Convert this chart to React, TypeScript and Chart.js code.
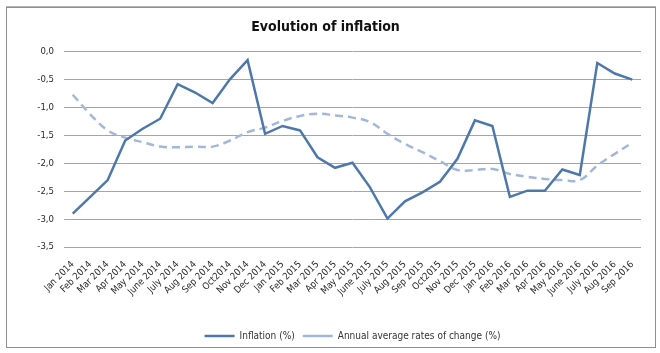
import React, { useEffect, useRef } from "react";
import { Chart, registerables } from "chart.js";

Chart.register(...registerables);

const categories = [
  "Jan 2014", "Feb 2014", "Mar 2014", "Apr 2014", "May 2014", "June 2014", "July 2014", "Aug 2014", "Sep 2014", "Oct2014", "Nov 2014", "Dec 2014",
  "Jan 2015", "Feb 2015", "Mar 2015", "Apr 2015", "May 2015", "June 2015", "July 2015", "Aug 2015", "Sep 2015", "Oct2015", "Nov 2015", "Dec 2015",
  "Jan 2016", "Feb 2016", "Mar 2016", "Apr 2016", "May 2016", "June 2016", "July 2016", "Aug 2016", "Sep 2016",
];

const inflation = [
  -2.9, -2.6, -2.3, -1.59, -1.38, -1.2, -0.58, -0.73, -0.92, -0.49, -0.15, -1.47,
  -1.33, -1.41, -1.89, -2.08, -1.99, -2.43, -2.99, -2.68, -2.52, -2.33, -1.92, -1.23,
  -1.33, -2.6, -2.49, -2.49, -2.11, -2.21, -0.2, -0.39, -0.5,
];

const annualAverage = [
  -0.77, -1.12, -1.41, -1.54, -1.62, -1.7, -1.71, -1.7, -1.7, -1.59, -1.44, -1.36,
  -1.24, -1.15, -1.11, -1.14, -1.18, -1.26, -1.47, -1.65, -1.8, -1.96, -2.12, -2.12,
  -2.1, -2.19, -2.24, -2.28, -2.3, -2.3, -2.04, -1.83, -1.63,
];

const seriesNames = ["Inflation (%)", "Annual average rates of change (%)"];
const yTicks = { min: -3.5, max: 0, step: 0.5 };
const titleText = "Evolution of inflation";

const FONT = "'DejaVu Sans Condensed', 'DejaVu Sans', sans-serif";

export default function App() {
  const ref = useRef<HTMLCanvasElement | null>(null);

  useEffect(() => {
    if (!ref.current) return;
    const chart = new Chart(ref.current, {
      type: "line",
      data: {
        labels: categories,
        datasets: [
          {
            label: seriesNames[0],
            data: inflation,
            borderColor: "#4f78aa",
            backgroundColor: "#4f78aa",
            borderWidth: 2.5,
            pointRadius: 0,
            tension: 0,
          },
          {
            label: seriesNames[1],
            data: annualAverage,
            borderColor: "#a3b8d6",
            backgroundColor: "#a3b8d6",
            borderWidth: 2.5,
            borderDash: [8, 5],
            pointRadius: 0,
            tension: 0.4,
          },
        ],
      },
      options: {
        responsive: false,
        animation: false,
        layout: { padding: { left: 10, right: 19, top: 19, bottom: 2 } },
        plugins: {
          title: {
            display: true,
            text: titleText,
            color: "#111",
            font: { family: "'Liberation Sans Narrow', 'DejaVu Sans Condensed', sans-serif", size: 14, weight: "bold" },
            padding: { top: 0, bottom: 16 },
          },
          legend: {
            position: "bottom",
            fullSize: false,
            labels: {
              usePointStyle: true,
              pointStyle: "line",
              pointStyleWidth: 30,
              color: "#333",
              font: { family: FONT, size: 10 },
              padding: 8,
            },
          },
          tooltip: { enabled: false },
        },
        scales: {
          x: {
            offset: true,
            grid: { display: false },
            border: { display: false },
            ticks: {
              autoSkip: false,
              minRotation: 45,
              maxRotation: 45,
              color: "#2a2a2a",
              font: { family: FONT, size: 9.5 },
              padding: 4,
            },
            afterFit: (s: any) => {
              s.height = 76;
            },
          },
          y: {
            min: yTicks.min,
            max: yTicks.max,
            border: { display: false },
            grid: { color: "#a6a6a6", drawTicks: false },
            ticks: {
              stepSize: yTicks.step,
              color: "#2a2a2a",
              font: { family: FONT, size: 9.5 },
              padding: 10,
              callback: (v: any) => Number(v).toFixed(1).replace(".", ","),
            },
            afterFit: (s: any) => {
              s.width = 54;
            },
          },
        },
      },
    });
    return () => chart.destroy();
  }, []);

  return (
    <div style={{ position: "fixed", left: 0, top: 0, width: 660, height: 353, background: "#fff" }}>
      <div
        style={{
          position: "absolute",
          left: 6,
          top: 7,
          width: 648,
          height: 339,
          border: "1px solid #8f8f8f",
          boxShadow: "0 -1px 0 #b5b5b5",
        }}
      />
      <canvas ref={ref} width={660} height={353} style={{ position: "absolute", left: 0, top: 0 }} />
    </div>
  );
}
